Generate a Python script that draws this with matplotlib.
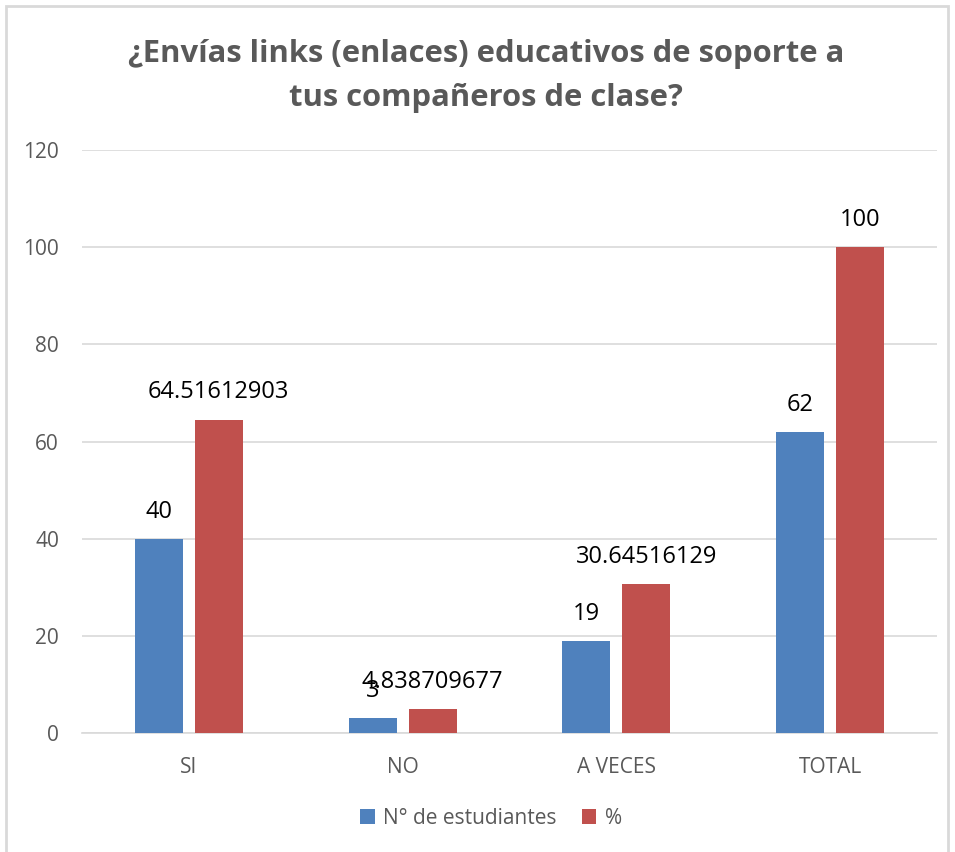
import matplotlib.pyplot as plt
from matplotlib.patches import Rectangle
import numpy as np

categories = ["SI", "NO", "A VECES", "TOTAL"]
estudiantes = [40, 3, 19, 62]
porcentaje = [64.51612903, 4.838709677, 30.64516129, 100]
etiquetas_est = ["40", "3", "19", "62"]
etiquetas_pct = ["64.51612903", "4.838709677", "30.64516129", "100"]
yticks = [0, 20, 40, 60, 80, 100, 120]

W, H = 955, 852
fig = plt.figure(figsize=(W / 100, H / 100), dpi=100)
plt.rcParams['font.family'] = ['Open Sans', 'DejaVu Sans']

# chart border
fig.patches.append(Rectangle((6 / W, -0.05), (948 - 6) / W, 1.05 - 6 / H,
                             transform=fig.transFigure, fill=False,
                             edgecolor='#D9D9D9', linewidth=2))

ax = fig.add_axes([82 / W, 119 / H, (937 - 82) / W, (733 - 150) / H])

x = np.arange(len(categories))
off = 0.14
w = 0.225
b1 = ax.bar(x - off, estudiantes, w, color='#4F81BD', label='N° de estudiantes', zorder=3)
b2 = ax.bar(x + off, porcentaje, w, color='#C0504D', label='%', zorder=3)

for xi, v, t in zip(x, estudiantes, etiquetas_est):
    ax.annotate(t, (xi - off, v), xytext=(0, 19.5), textcoords='offset points',
                ha='center', va='center', fontsize=17, color='black')
for xi, v, t in zip(x, porcentaje, etiquetas_pct):
    ax.annotate(t, (xi + off, v), xytext=(0, 19.5), textcoords='offset points',
                ha='center', va='center', fontsize=17, color='black')

ax.set_xlim(-0.5, 3.5)
ax.set_ylim(0, 120)
ax.set_yticks(yticks)
ax.set_xticks(x)
ax.set_xticklabels(categories)
ax.grid(axis='y', color='#D9D9D9', linewidth=1.2, zorder=0)
for s in ['top', 'right', 'left']:
    ax.spines[s].set_visible(False)
ax.spines['bottom'].set_color('#D9D9D9')
ax.spines['bottom'].set_linewidth(1.2)
ax.tick_params(axis='both', length=0, labelsize=15, labelcolor='#595959')
ax.tick_params(axis='x', pad=17)
ax.tick_params(axis='y', pad=16.5)

fig.text(486 / W, 1 - 76 / H, "¿Envías links (enlaces) educativos de soporte a\ntus compañeros de clase?",
         ha='center', va='center', fontsize=22.3, fontweight='bold', color='#595959',
         linespacing=1.58)

fig.legend(handles=[b1, b2], loc='center', bbox_to_anchor=(491 / W, 1 - 818 / H),
           ncol=2, frameon=False, fontsize=15, labelcolor='#595959',
           handlelength=0.7, handleheight=0.7, columnspacing=1.2, handletextpad=0.4)

fig.savefig('out.png', dpi=100)
